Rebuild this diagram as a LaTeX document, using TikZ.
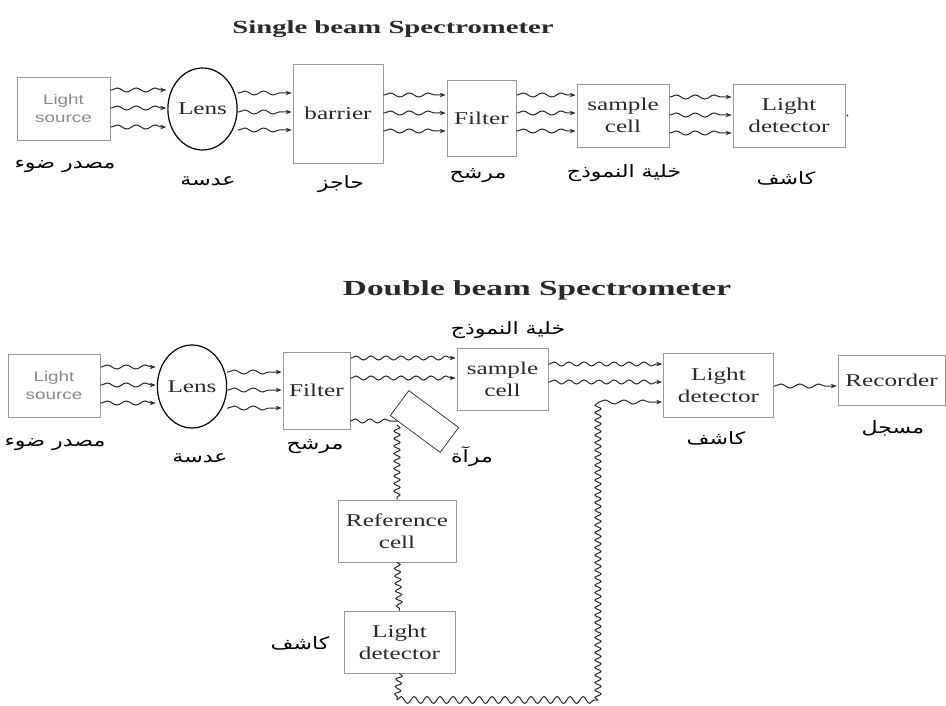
\documentclass[tikz,border=0pt]{standalone}
\usepackage{fontspec}
\usetikzlibrary{shapes.geometric,decorations.pathmorphing,arrows.meta}
\TeXXeTstate=1
\newfontfamily\arabicfont[Script=Arabic,FakeStretch=1.3]{DejaVu Sans}
\newfontfamily\boxfont[FakeStretch=1.4]{Liberation Serif}
\newfontfamily\srcfont[FakeStretch=1.35]{Liberation Sans}
\newfontfamily\titlefont[FakeStretch=1.55]{Liberation Serif}
\definecolor{boxgray}{HTML}{9A9A9A}
\definecolor{txtgray}{HTML}{8A8A8A}
\definecolor{ink}{HTML}{2A2A2A}
\begin{document}
\begin{tikzpicture}[x=1pt,y=-1pt,
  box/.style={draw=boxgray,line width=0.7pt,rectangle,inner sep=0pt,align=center,
    font=\boxfont\fontsize{18}{22}\selectfont,text=ink},
  srcbox/.style={box,font=\srcfont\fontsize{14}{18}\selectfont,text=txtgray},
  lensshape/.style={draw=black,line width=1.2pt,ellipse,inner sep=0pt,
    font=\boxfont\fontsize{18}{22}\selectfont,text=ink},
  arlabel/.style={font=\arabicfont\fontsize{17}{19}\selectfont,text=black,inner sep=0pt},
  titletext/.style={font=\titlefont\bfseries,text=ink,inner sep=0pt},
  wave/.style={draw=ink,line width=1pt,decorate,
    decoration={snake,amplitude=2pt,segment length=19pt,post length=5pt,pre length=1pt},
    -{Stealth[length=6pt,width=4.5pt]},shorten >=1pt},
  longwave/.style={wave,decoration={snake,amplitude=2pt,segment length=15pt,post length=5pt,pre length=1pt}},
  vwave/.style={draw=ink,line width=1pt,decorate,
    decoration={snake,amplitude=3pt,segment length=7.5pt}},
  bwave/.style={draw=ink,line width=1pt,decorate,
    decoration={snake,amplitude=3.5pt,segment length=13pt}},
  plainwave/.style={draw=ink,line width=1pt,decorate,
    decoration={snake,amplitude=2pt,segment length=15pt}}
]
\useasboundingbox (0,0) rectangle (946,706);

% ---------- Single beam ----------
\node[titletext,font=\titlefont\bfseries\fontsize{18.5}{22}\selectfont] (t1) at (393,29) {Single beam Spectrometer};

\node[srcbox,minimum width=93pt,minimum height=63pt] (src1) at (63.5,108.5) {Light\\source};
\node[lensshape,minimum width=61pt,minimum height=82pt] (lens1) at (202.5,109) {Lens};
\node[box,minimum width=90pt,minimum height=99pt] (bar1) at (338,113.5) {barrier};
\node[box,minimum width=69pt,minimum height=76pt] (fil1) at (481.5,118) {Filter};
\node[box,minimum width=92pt,minimum height=63pt] (smp1) at (623,115.5) {sample\\cell};
\node[box,minimum width=112pt,minimum height=63pt] (det1) at (789,115.5) {Light\\detector};
\fill[ink] (det1.east) ++(2,0) circle (0.9pt);

\foreach \yy in {90,108,127} \draw[wave] (src1.east |- 0,\yy) -- (lens1.west |- 0,\yy);
\foreach \yy in {93,112,130} \draw[wave] (lens1.east |- 0,\yy) -- (bar1.west |- 0,\yy);
\foreach \yy in {95,113,131} \draw[wave] (bar1.east |- 0,\yy) -- (fil1.west |- 0,\yy);
\foreach \yy in {95,113,131} \draw[wave] (fil1.east |- 0,\yy) -- (smp1.west |- 0,\yy);
\foreach \yy in {97,115,133} \draw[wave] (smp1.east |- 0,\yy) -- (det1.west |- 0,\yy);

\node[arlabel] (a1) at (65,166) {\beginR مصدر ضوء\endR};
\node[arlabel] (a2) at (208,181) {\beginR عدسة\endR};
\node[arlabel] (a3) at (341,184) {\beginR حاجز\endR};
\node[arlabel] (a4) at (478,176) {\beginR مرشح\endR};
\node[arlabel] (a5) at (624,173) {\beginR خلية النموذج\endR};
\node[arlabel] (a6) at (786,178) {\beginR كاشف\endR};

% ---------- Double beam ----------
\node[titletext,font=\titlefont\bfseries\fontsize{21.5}{24}\selectfont] (t2) at (537,290) {Double beam Spectrometer};
\node[arlabel] (b0) at (508,330) {\beginR خلية النموذج\endR};

\node[srcbox,minimum width=92pt,minimum height=63pt] (src2) at (54,385.5) {Light\\source};
\node[lensshape,minimum width=60pt,minimum height=83pt] (lens2) at (192,386.5) {Lens};
\node[box,minimum width=67pt,minimum height=77pt] (fil2) at (316.5,390.5) {Filter};
\node[box,minimum width=91pt,minimum height=62pt] (smp2) at (502.5,379) {sample\\cell};
\node[box,minimum width=110pt,minimum height=64pt] (det2) at (718.5,385) {Light\\detector};
\node[box,minimum width=107pt,minimum height=50pt] (rec) at (891.5,380) {Recorder};
\node[draw=ink,line width=0.7pt,rectangle,rotate=-36.5,minimum width=62pt,minimum height=31pt,inner sep=0pt] (mir) at (424.5,421.5) {};
\node[box,minimum width=118pt,minimum height=62pt] (ref) at (397,531) {Reference\\cell};
\node[box,minimum width=111pt,minimum height=62pt] (det3) at (399.5,642) {Light\\detector};

\foreach \yy in {367,385,403} \draw[wave] (src2.east |- 0,\yy) -- (lens2.west |- 0,\yy);
\foreach \yy in {372,390,408} \draw[wave] (lens2.east |- 0,\yy) -- (fil2.west |- 0,\yy);
\foreach \yy in {358,378} \draw[longwave] (fil2.east |- 0,\yy) -- (smp2.west |- 0,\yy);
\foreach \yy in {364,382} \draw[longwave] (smp2.east |- 0,\yy) -- (det2.west |- 0,\yy);
\draw[wave] (det2.east |- 0,386) -- (rec.west |- 0,386);

\coordinate (m1) at (397,421);
\coordinate (m2) at (397,425);
\draw[plainwave] (fil2.east |- m1) -- (m1);
\draw[vwave] (m2) -- (ref.north);
\draw[vwave] (ref.south) -- (det3.north);
\coordinate (c1) at (397,700);
\coordinate (c2) at (598,700);
\coordinate (c3) at (598,402);
\draw[vwave] (det3.south) -- (c1);
\draw[bwave] (c1) -- (c2);
\draw[vwave] (c2) -- (c3);
\draw[wave] (c3) -- (det2.west |- c3);

\node[arlabel] (b1) at (55,444) {\beginR مصدر ضوء\endR};
\node[arlabel] (b2) at (200,458) {\beginR عدسة\endR};
\node[arlabel] (b3) at (315,447) {\beginR مرشح\endR};
\node[arlabel] (b4) at (472,457) {\beginR مرآة\endR};
\node[arlabel] (b5) at (716,438) {\beginR كاشف\endR};
\node[arlabel] (b6) at (893,428) {\beginR مسجل\endR};
\node[arlabel] (b7) at (300,643) {\beginR كاشف\endR};
\end{tikzpicture}
\end{document}
